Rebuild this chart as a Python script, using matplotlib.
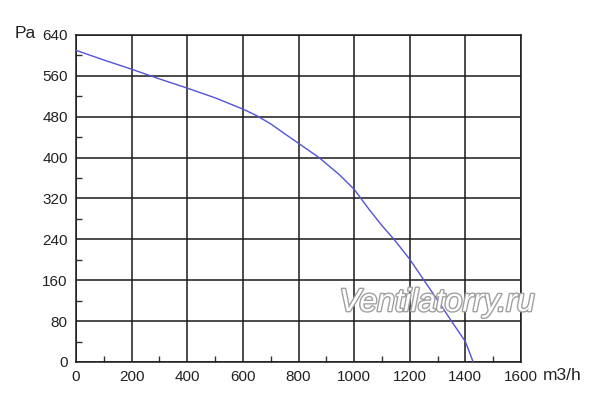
import matplotlib
matplotlib.use("Agg")
import matplotlib.pyplot as plt
import matplotlib.patheffects as pe
from matplotlib.ticker import MultipleLocator

plt.rcParams['font.family'] = ['Liberation Sans', 'DejaVu Sans']

# airflow (m3/h) vs pressure (Pa)
flow = [0, 100, 200, 300, 400, 500, 600, 650, 700, 768, 800, 874, 948, 1000, 1026,
        1056, 1100, 1145, 1200, 1250, 1300, 1350, 1400, 1428]
pressure = [610, 591, 573, 554, 536, 517, 495, 482, 466, 440, 428, 400, 366, 338, 319,
            297, 267, 239, 201, 161, 121, 80, 40, 0]

x_ticks = [0, 200, 400, 600, 800, 1000, 1200, 1400, 1600]
y_ticks = [0, 80, 160, 240, 320, 400, 480, 560, 640]

fig = plt.figure(figsize=(6.0, 4.12), dpi=100)
ax = fig.add_axes([0.1267, 0.1214, 0.7416, 0.7937])

ax.plot(flow, pressure, color='#5353d6', linewidth=1.0, zorder=3)

ax.set_xlim(0, 1600)
ax.set_ylim(0, 640)
ax.set_xticks(x_ticks)
ax.set_yticks(y_ticks)
ax.xaxis.set_minor_locator(MultipleLocator(100))
ax.yaxis.set_minor_locator(MultipleLocator(40))
ax.tick_params(which='major', length=0, labelsize=11, pad=6, colors='#222222')
ax.tick_params(which='minor', direction='in', length=4, width=1, color='#333333')
ax.grid(True, which='major', color='#1a1a1a', linewidth=1.1)
for s in ax.spines.values():
    s.set_color('#1a1a1a')
    s.set_linewidth(1.1)

fig.text(15 / 600, 1 - 34 / 412, 'Pa', fontsize=12.5, ha='left', va='center', color='#222222')
fig.text(543 / 600, 1 - 376 / 412, 'm3/h', fontsize=12.5, ha='left', va='center', color='#222222')

# watermark
fig.text(437 / 600, 1 - 303 / 412, 'Ventilatorry.ru', fontsize=23, style='italic',
         ha='center', va='center', color='white', zorder=10,
         path_effects=[pe.withStroke(linewidth=2.0, foreground='#a0a0a0')])

fig.savefig('out.png', dpi=100)
